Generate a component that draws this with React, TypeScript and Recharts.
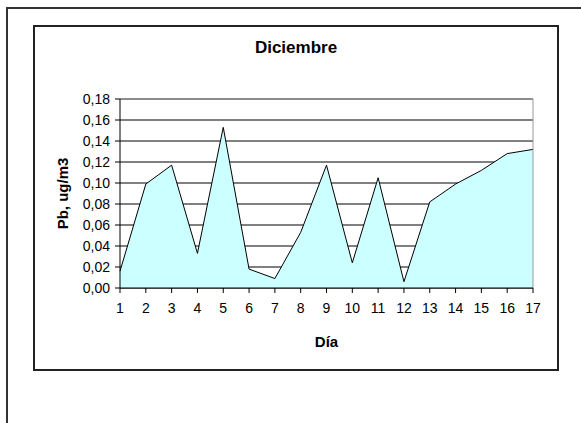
import React from 'react';
import { AreaChart, Area, XAxis, YAxis, CartesianGrid, ReferenceLine, Label } from 'recharts';

const days = [1, 2, 3, 4, 5, 6, 7, 8, 9, 10, 11, 12, 13, 14, 15, 16, 17];
const pbValues = [0.016, 0.099, 0.117, 0.033, 0.153, 0.018, 0.009, 0.053, 0.117, 0.024, 0.105, 0.006, 0.082, 0.099, 0.112, 0.128, 0.132];
const yTicks = [0, 0.02, 0.04, 0.06, 0.08, 0.1, 0.12, 0.14, 0.16, 0.18];

const data = days.map((d, i) => ({ day: d, pb: pbValues[i] }));

const fmt = (v: number) => v.toFixed(2).replace('.', ',');

const font = '"Liberation Sans", Arial, sans-serif';

export default function App() {
  return (
    <div style={{ position: 'absolute', left: 0, top: 0, width: 581, height: 423, background: '#fff', overflow: 'hidden', fontFamily: font }}>
      {/* outer frame */}
      <div style={{ position: 'absolute', left: 6, top: 7, width: 600, height: 440, border: '2px solid #333' }} />
      {/* chart frame */}
      <div style={{ position: 'absolute', left: 33, top: 25, width: 522, height: 342, border: '2px solid #222' }} />
      <div style={{ position: 'absolute', left: 33, top: 38, width: 526, textAlign: 'center', fontWeight: 'bold', fontSize: 17, color: '#000' }}>
        Diciembre
      </div>
      <div style={{ position: 'absolute', left: 0, top: 0 }}>
        <AreaChart width={581} height={423} data={data} margin={{ top: 99, right: 48, bottom: 75, left: 60 }}>
          <CartesianGrid vertical={false} stroke="#000" strokeWidth={1} />
          <XAxis
            dataKey="day"
            height={60}
            tick={{ fill: '#000', fontSize: 14, fontFamily: font }}
            tickLine={{ stroke: '#000' }}
            axisLine={{ stroke: '#000' }}
            tickSize={5}
            tickMargin={10}
            interval={0}
          >
            <Label value="Día" position="insideBottom" offset={1} style={{ fontWeight: 'bold', fontSize: 15, fill: '#000', fontFamily: font }} />
          </XAxis>
          <YAxis
            width={60}
            domain={[0, 0.18]}
            ticks={yTicks}
            tickFormatter={fmt}
            tick={{ fill: '#000', fontSize: 14, fontFamily: font }}
            tickLine={{ stroke: '#000' }}
            axisLine={{ stroke: '#000' }}
            tickSize={5}
            tickMargin={5}
            interval={0}
          >
            <Label value="Pb, ug/m3" angle={-90} position="insideLeft" offset={3} style={{ fontWeight: 'bold', fontSize: 15, fill: '#000', fontFamily: font, textAnchor: 'middle' }} />
          </YAxis>
          <Area
            type="linear"
            dataKey="pb"
            stroke="#000"
            strokeWidth={1}
            fill="#CCFFFF"
            fillOpacity={1}
            isAnimationActive={false}
            dot={false}
            activeDot={false}
          />
          <ReferenceLine y={0.18} stroke="#999" />
          <ReferenceLine x={17} stroke="#999" />
        </AreaChart>
      </div>
    </div>
  );
}
